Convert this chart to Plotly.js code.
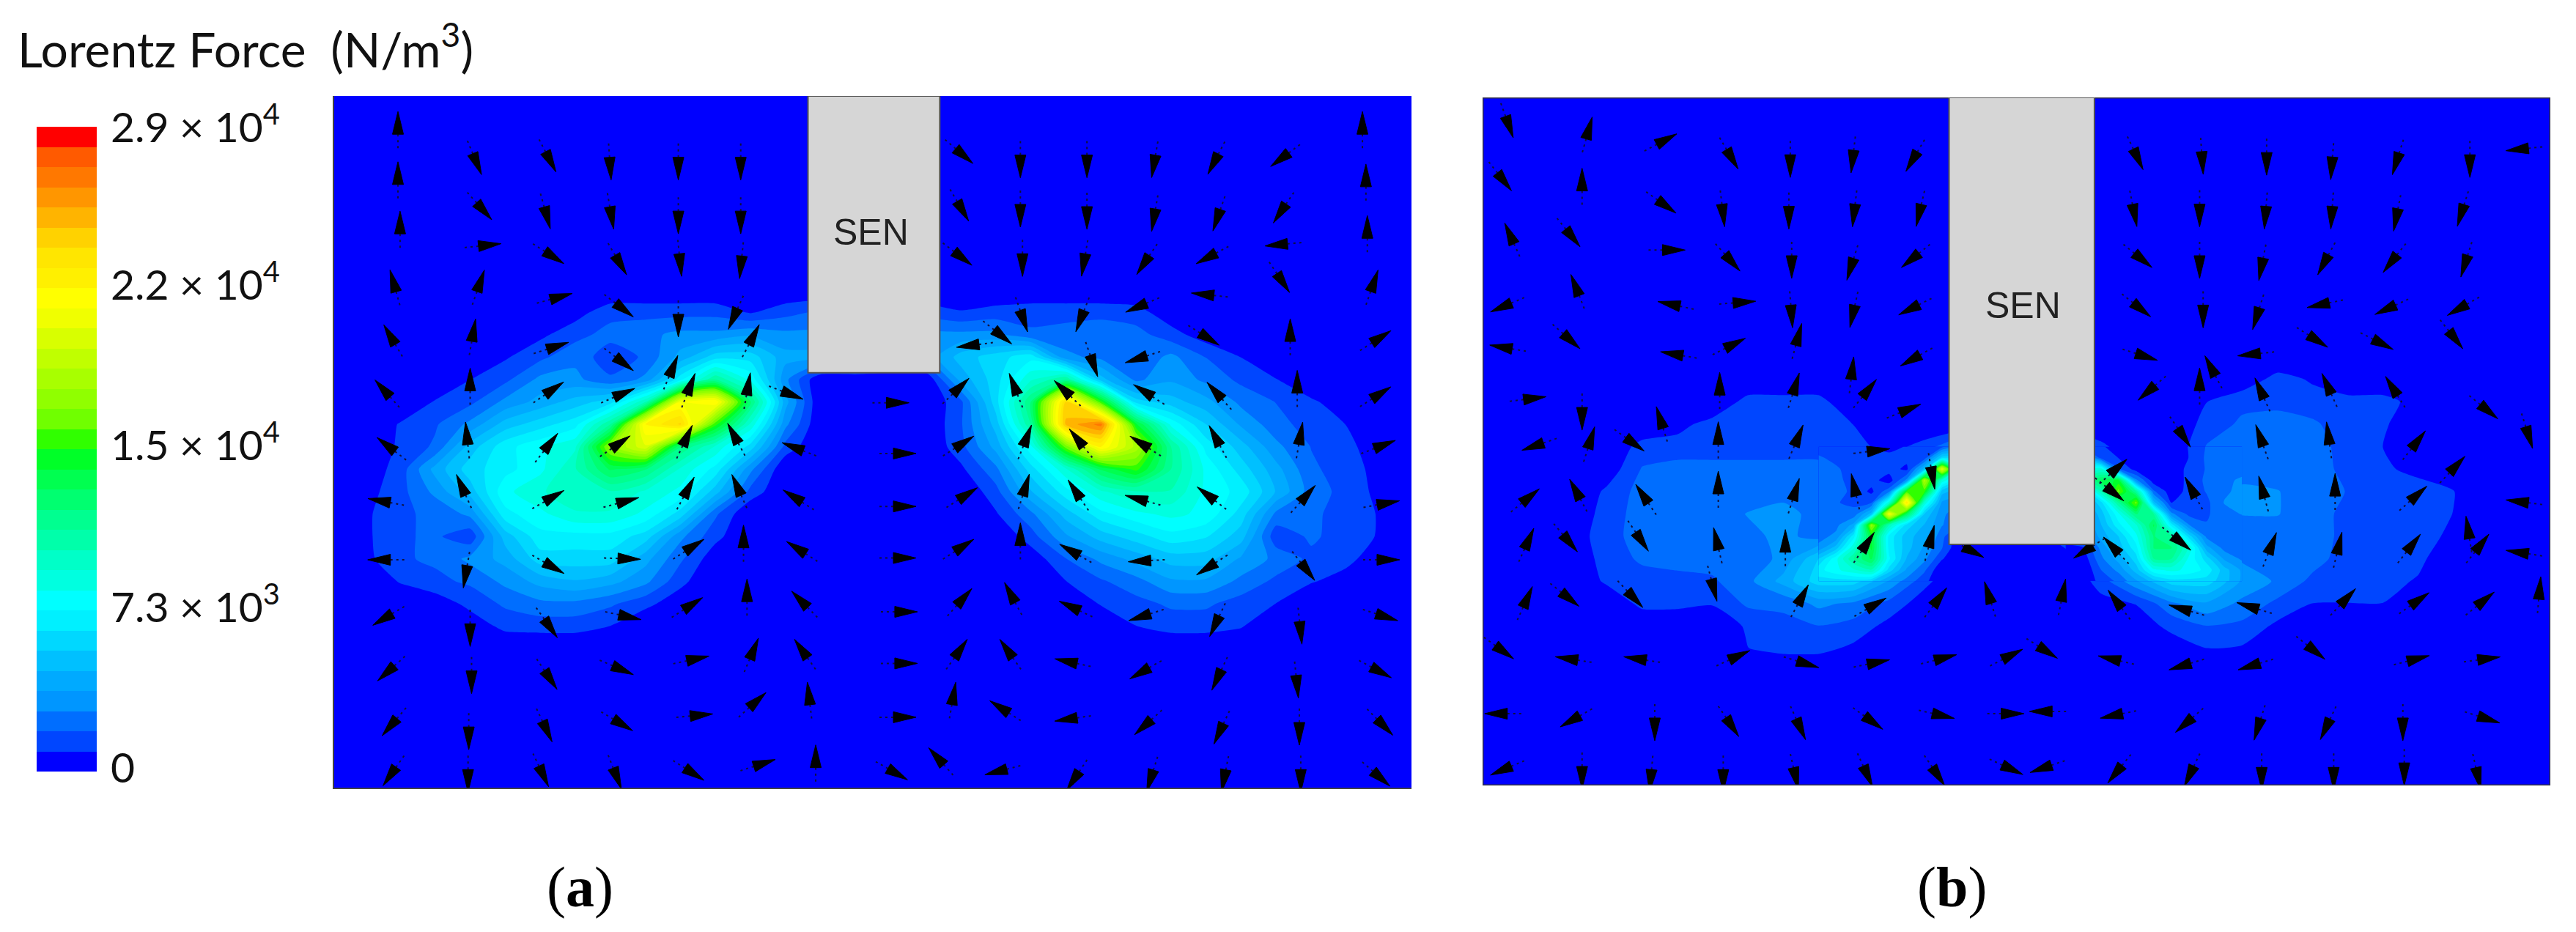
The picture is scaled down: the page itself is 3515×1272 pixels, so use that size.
<!DOCTYPE html>
<html>
<head>
<meta charset="utf-8">
<script src="https://cdn.plot.ly/plotly-3.0.1.min.js"></script>
<style>body { margin: 0; background: #fff; }</style>
</head>
<body>
<div id="chart" style="width:3515px;height:1272px;"></div>
<script>
// === Colour bar ===
const bandColors = ['#0000ff','#0046ff','#006eff','#0096ff','#00aaff','#00c0ff','#00d8ff','#00f0ff',
    '#00ffff','#00ffe0','#00ffc8','#00ffaa','#00ff90','#00ff70','#00ff50','#00ff28',
    '#30ff00','#70ff00','#90ff00','#a8ff00','#c0ff00','#d8ff00','#f0ff00','#ffff00',
    '#fff000','#ffe600','#ffd200','#ffb400','#ff9600','#ff7800','#ff5a00','#ff0000'];
const barTickVals = [0.17, 7.47, 14.83, 22.13, 29.3];
const barTickText = ['0', '7.3 × 10<sup>3</sup>', '1.5 × 10<sup>4</sup>', '2.2 × 10<sup>4</sup>', '2.9 × 10<sup>4</sup>'];
const forceMax = 29.33; // 10^3 N/m3

// === Force field, 10^3 N/m3 ===
const xGrid = [0,50,100,150,200,250,300,350,400,450,500,550,600,650,700,750,800,
    850,900,950,1000,1050,1100,1150,1200,1250,1300,1350,1400,1450,1500,1550];
const yGridA = [0,450,500,550,600,650,700,750,800,850,900,950,1000,1050,1100,1150,1200,1250,1600];
const yGridB = [0,600,650,700,750,800,850,900,950,1000,1050,1100,1150,1200,1250,1300,1600];
const blank = xGrid.map(() => 0);

const forceA = [blank, blank,
    [0,0,0,0,0,0,0,.5,1.5,1.5,1.5,1.5,.8,1.5,2, 2,2, 1.5,1,1.3,1.5,1.5,1.5,1.3,.3,0,0,0,0,0,0,0],
    [0,0,0,0,0,0,.7,1.5,2.2,2.5,3,3,3.5,3,3, 3,3, 3,3,3,2,2.2,2.5,2.2,1.3,.4,0,0,0,0,0,0],
    [0,0,0,0,0,.8,1.6,2.5,1.2,2,4,6,6,4,4, 4,3, 3,5,6,7,3,2.5,2,3,1.8,.9,0,0,0,0,0],
    [0,0,0,0,.9,1.6,3,3,2,3,7,11,8,3,0, 0,0, 0,4,6,9,11,5,2.5,3.5,2.5,1.6,.95,0,0,0,0],
    [0,0,0,1,1.6,3,4,5,6,10,21,22,12,4,0, 0,0, 0,1.6,6,12,24,15,6,5,4,2.5,1.8,1.1,.3,0,0],
    [0,0,1,1.7,3,5,6,7,11,22,24,15,9,3,0, 0,0, 0,1.7,5,11,25,27,14,8,5.5,3.5,2.2,1.4,.9,0,0],
    [0,0,1.1,2,5,7,8,9,17,20,12,9,6,1.5,0, 0,0, 0,1.5,4,8,16,22,18,11,7,5,3,1.8,1.2,.3,0],
    [0,.3,1.3,4,6,7,8,10,13,12,9,7,3,0,0, 0,0, 0,.7,2.5,6,9,13,15,11,8,6,4,2,1.4,.5,0],
    [0,.5,1.5,3,5,8,9,10,10,9,8,5,1.5,0,0, 0,0, 0,0,1.5,4.5,7,9,10,10,8,7,4.5,2.3,1.5,.6,0],
    [0,.7,1.7,2,3,7,8,9,9,8,6,2,0,0,0, 0,0, 0,0,.8,2.5,5,7,8,8.5,8,6,2.5,2,1.5,.8,0],
    [0,.7,1.7,2,1.2,5,7,7,7,6,3,1.2,0,0,0, 0,0, 0,0,0,1.4,3.5,5,6,7,6.5,5,1.2,2,1.4,.8,0],
    [0,.6,1.7,2,3,4,6,6,6,4,2,.3,0,0,0, 0,0, 0,0,0,.3,1.8,3,4,5,5,3.5,2.5,1.6,1.2,.3,0],
    [0,0,1,1.6,2,3,4,4.5,4,3,1.2,0,0,0,0, 0,0, 0,0,0,0,.9,1.7,2.4,3.5,3.5,2.5,1.6,1,.5,0,0],
    [0,0,0,.3,1.2,2,2.5,2.5,2,1.2,.3,0,0,0,0, 0,0, 0,0,0,0,0,1,1.5,2,2,1.4,.9,0,0,0,0],
    [0,0,0,0,.3,1.2,1.3,1.3,.9,0,0,0,0,0,0, 0,0, 0,0,0,0,0,0,.9,1.3,1.3,1,0,0,0,0,0],
    blank, blank];

const forceB = [blank, blank,
    [0,0,0,0,0,0,0,0,0,0,0,0,0,0,0, 0,0, 0,0,0,0,0,.2,1.3,.8,0,0,0,0,0,0,0],
    [0,0,0,0,0,0,0,0,1.3,1.3,1.3,0,0,0,0, 0,0, 0,0,0,0,.9,1.6,1.6,1.3,1.3,1.3,.5,0,0,0,0],
    [0,0,0,0,0,0,.6,1.3,1.3,1.3,1.3,.9,0,0,0, 0,0, 0,0,0,0,1.3,2,2.2,2,1.3,1.1,0,0,0,0,0],
    [0,0,0,0,0,1.3,1.3,1.3,1.3,1.3,1.3,1.3,.5,1.3,3, 3,3, 3,1.2,0,0,1.9,2.2,2.2,2.2,1.5,.9,0,0,0,0,0],
    [0,0,0,0,.3,1.9,2.2,2.2,2.2,2.2,2.2,1.4,1.3,5,8, 8,8, 8,9,.5,0,1.9,2.2,2.2,2.2,1.6,1.1,.6,0,0,0,0],
    [0,0,0,0,1.1,2.2,2.2,2.2,2.2,2.5,2.2,.8,2.5,15,4, 4,4, 4,10,11,.4,1.9,3,2.8,2.2,1.8,1.5,1.4,.95,0,0,0],
    [0,0,0,0,1.4,2.2,2.2,2.2,2.8,3,2.5,4,21,5.5,2, 2,2, 3,5,12,3,1.7,2.8,2.8,2.2,1.6,1.4,1.3,.9,0,0,0],
    [0,0,0,.3,1.5,2.2,2.2,2.2,2.5,3,2.4,7,7,4,0, 0,0, 2,4,8,11,2.5,2,2.2,2.2,1.6,1.3,1.3,.7,0,0,0],
    [0,0,0,.2,1.3,2,2.2,2.2,2.2,3,5.5,11,7.5,3,0, 0,0, 0,2.5,6,11,6,2.6,2.4,2.2,1.4,1.3,1.2,0,0,0,0],
    [0,0,0,0,1.1,1.4,1.5,1.7,2.5,4,6,6,3.5,1.2,0, 0,0, 0,1.3,3.5,6,6,3.5,2.6,1.6,1.3,1.3,.8,0,0,0,0],
    [0,0,0,0,0,1.2,1.2,1,2,2,3,2.5,1.5,.4,0, 0,0, 0,.6,.95,2.5,3.5,2.5,1.6,.9,.9,.9,0,0,0,0,0],
    [0,0,0,0,0,0,0,0,1.1,1.6,1.8,1.5,.6,0,0, 0,0, 0,0,.3,1.2,1.8,1.6,.7,0,0,0,0,0,0,0,0],
    [0,0,0,0,0,0,0,0,.9,1.2,1.2,.7,0,0,0, 0,0, 0,0,0,.3,.9,.8,0,0,0,0,0,0,0,0,0],
    blank, blank];

// finer reading of the two narrow hot streaks in (b)
const yPatch = [800,825,850,875,900,925,950,975,1000,1025,1050,1075,1100];
const xPatchL = [500,525,550,575,600,625,650,675,700];
const forcePatchL = [
    [1.3,1.3,1.3,.9,.5,1,1.3,1.5,3],
    [2,1.5,1.3,1.3,1.3,1.2,1.3,6,6],
    [2.2,2,1.3,1.3,1.3,.7,5,20,8],
    [2.2,2.2,1.3,1.3,.4,3,18,9,6],
    [2.2,2.2,1.6,.7,2.5,15,15,5,4],
    [2.2,1.9,1.6,1.8,9,23,9,3.5,3],
    [2.5,2,2.2,5,21,13,5.5,3,2],
    [2.3,2.5,4,17,10,6,4.5,2.8,2],
    [2.4,3,7,14,7,5,4,2.2,0],
    [3,5,9,14,7,5,3.5,1.9,0],
    [5.5,8,11,13,7.5,4.5,3,1,0],
    [7,8,9,10,6,3.5,2,0,0],
    [6,6,6,5.5,3.5,2.4,1.2,0,0]];
const xPatchR = [850,875,900,925,950,975,1000,1025,1050,1075,1100];
const forcePatchR = [
    [1.5,1.5,1.2,0,0,0,0,1,1.9,2,2.2],
    [5,5,1.5,.9,0,0,0,.95,2,2.2,2.2],
    [8,8,9,2,.5,0,0,1.3,1.9,2.2,2.2],
    [10,10,13,14,3,.4,0,1.3,2,2.4,3],
    [5,5,10,16,11,2,.4,1.2,1.9,2.6,3],
    [4,4,6,11,16,5,.9,1.2,1.6,2.8,3],
    [3,3,5,8,12,11,3,1.6,1.7,2.4,2.8],
    [2.5,2.5,4.5,7,9,13,7,2.8,1.9,2,2.1],
    [2,2,4,5.5,8,12,11,6,2.5,2,2],
    [.5,.9,3,5,7,12,12,9,4,2.4,2],
    [0,.3,2.5,4,6,11,11,8,6,3.5,2.6],
    [0,0,1.8,3,5,8,8.5,8,7,5,3.5],
    [0,0,1.3,2,3.5,5,6,6,6,5,3.5]];

// === Force direction, arrow head centres and directions ===
const arrowXA = [97,1473,
    97,210,315,400,497,586,905,985,1080,1175,1260,1355,1478,
    100,220,310,402,497,586,903,985,1080,1175,1265,1355,1480,
    228,320,415,500,586,903,988,1075,1160,1250,1350,
    90,215,330,1245,1360,1490,
    85,205,420,497,575,990,1070,1150,1255,1370,1500,
    325,605,910,960,420,490,1090,1150,
    75,200,320,420,515,597,660,810,900,975,1045,1160,1262,1380,1500,
    80,195,315,415,510,575,660,820,905,995,1065,1155,1262,1385,1505,
    70,187,320,425,512,580,660,820,910,993,1062,1150,1250,1395,1510,
    70,193,320,427,520,590,665,820,905,985,1055,1155,1250,1395,1510,
    75,200,315,428,518,595,670,822,905,970,1055,1155,1262,1385,1508,
    80,202,315,418,525,605,672,822,900,965,1050,1155,1265,1380,1500,
    85,198,310,418,530,610,683,820,890,955,1050,1160,1268,1383,1505,
    85,197,305,410,520,620,693,810,865,950,1060,1170,1275,1385,1500];
const arrowYA = [78,78,
    190,170,165,180,180,180,152,175,175,175,170,160,195,
    300,275,290,290,300,300,275,285,290,295,295,280,310,
    350,378,395,395,400,380,395,395,395,380,350,
    430,430,465,460,435,430,
    550,540,495,530,515,520,520,490,560,540,555,
    575,550,575,555,615,620,620,605,
    670,650,670,680,660,660,685,702,665,660,670,675,675,655,680,
    795,770,790,790,775,770,800,815,790,775,780,790,775,770,795,
    920,885,910,920,890,885,910,933,905,885,895,915,905,905,925,
    1052,1090,1070,1050,1020,1000,1025,1048,1020,995,1030,1055,1072,1078,1052,
    1185,1220,1205,1180,1150,1120,1140,1168,1135,1125,1155,1180,1200,1215,1180,
    1305,1325,1320,1298,1272,1250,1250,1283,1250,1250,1278,1305,1320,1335,1303,
    1425,1450,1435,1420,1398,1365,1350,1403,1350,1380,1408,1425,1440,1440,1425,
    1535,1545,1535,1540,1530,1505,1490,1530,1490,1525,1545,1545,1545,1545,1540];
const arrowUA = [0,0,
    0,12,15,2,0,0,30,0,0,-5,-15,-30,0,
    0,20,8,5,0,0,15,0,0,-5,-10,-15,0,
    30,25,15,3,-3,25,0,-5,-15,-30,-35,
    -8,10,35,-30,15,10,
    -15,5,25,0,-10,10,-10,-30,25,0,25,
    30,15,-25,20,25,12,10,-30,
    -20,0,28,30,10,5,25,30,20,-10,-20,-25,-20,0,30,
    -25,-3,20,28,12,-12,-25,30,28,10,-18,-28,-12,5,30,
    -35,-10,28,35,12,-10,-25,30,25,8,-15,-35,-25,20,35,
    -35,-5,28,35,28,0,-28,30,28,0,-28,-35,-28,20,35,
    -30,0,18,35,28,0,-22,30,20,-12,-30,-30,-12,3,30,
    -25,0,15,30,30,12,-18,30,18,-18,-30,-28,-12,3,30,
    -22,0,12,30,35,25,-3,30,5,-25,-35,-25,-12,0,22,
    -18,0,12,10,25,30,0,28,-20,-30,-15,-8,-5,0,22];
const arrowVA = [-45,-45,
    -45,45,45,45,45,45,40,45,45,45,45,35,-45,
    -45,35,45,45,45,45,40,45,45,45,45,35,-45,
    -5,25,40,45,45,30,45,45,35,25,5,
    -45,-45,-15,-5,35,-45,
    -40,-45,30,45,35,45,40,20,25,-40,-25,
    -15,-45,5,25,30,-45,45,15,
    -35,-40,-30,-20,-40,-45,15,0,-30,-40,-30,-25,-35,-45,-30,
    -30,-45,-40,-30,-40,-35,-15,0,-28,-40,-35,-28,-35,-45,-18,
    -10,-35,-25,-15,-35,-35,-25,0,-25,-40,-35,-15,-30,-35,-10,
    0,45,25,2,-28,-45,-28,0,-28,-40,-25,3,28,40,0,
    28,40,40,12,-28,-40,-35,0,-35,-35,-22,15,40,45,15,
    35,40,35,20,-10,-45,-40,0,-40,-40,-10,25,40,45,25,
    40,45,40,28,-5,-35,-40,0,-45,-25,8,35,40,45,35,
    40,40,40,40,25,-15,-40,25,-35,12,35,40,40,40,30];

const arrowXB = [62,175,285,
    378,460,548,632,953,1044,1135,1227,1318,1423,1490,
    55,165,285,365,458,550,642,948,1040,1133,1227,1318,1410,
    62,152,295,378,462,545,630,960,1040,1127,1215,1310,1415,
    155,50,288,395,462,548,628,958,1045,1120,1208,1303,1405,
    150,50,292,472,382,548,630,965,1110,1055,1208,1300,1403,
    360,468,572,965,1040,1125,1220,1312,98,630,1450,
    165,275,240,178,358,472,95,1018,1125,1222,1350,1507,585,
    662,925,250,358,468,550,155,92,1027,1128,1232,1350,1405,1490,920,1420,
    90,148,250,355,453,570,660,720,875,915,1015,1143,1238,1343,1440,1490,
    88,148,240,352,478,582,672,740,847,920,1012,1108,1250,1352,1445,1522,
    55,143,240,388,485,585,680,775,825,912,1012,1110,1205,1350,1450,
    43,148,268,378,475,578,677,775,815,915,1018,1122,1218,1328,1450,
    50,165,262,365,468,570,670,775,815,920,1025,1128,1230,1330,1435];
const arrowYB = [88,90,115,
    160,175,165,165,160,168,170,180,170,175,138,
    210,205,265,285,290,285,285,285,285,290,290,295,285,
    325,335,362,390,400,405,385,385,400,405,395,392,398,
    440,490,482,478,510,510,495,495,510,515,485,495,495,
    565,578,593,550,570,625,608,600,595,620,565,572,562,
    660,660,670,680,650,670,660,665,692,715,722,
    738,735,795,780,770,775,800,780,775,770,785,780,808,
    870,845,905,880,895,885,895,910,890,890,885,905,840,922,905,980,
    1005,1015,1012,1005,1010,1012,1000,1035,1035,1020,1015,1015,1015,1015,1015,1035,
    1135,1140,1140,1120,1130,1150,1135,1125,1120,1140,1160,1155,1135,1140,1140,1115,
    1258,1272,1272,1265,1285,1280,1270,1263,1258,1272,1290,1290,1258,1272,1272,
    1395,1412,1430,1425,1430,1415,1400,1395,1390,1400,1420,1430,1430,1430,1408,
    1522,1538,1545,1545,1540,1535,1535,1520,1518,1530,1535,1540,1540,1530,1540];
const arrowUB = [8,8,30,
    15,0,-3,-15,12,2,0,-2,-8,0,-30,
    15,0,25,3,0,-3,-6,5,0,-2,-2,-5,-8,
    -10,18,15,20,0,-8,-22,22,0,-5,-12,-15,-8,
    -10,-30,-30,25,2,-5,-28,20,0,-8,-30,-28,-28,
    20,-30,-22,6,28,3,-25,30,-30,-10,25,25,15,
    0,8,18,-22,0,-10,-10,-12,30,28,22,
    0,-8,22,8,0,8,-28,12,-8,-3,15,8,25,
    5,25,-15,0,8,-5,-12,22,-12,-6,0,18,18,-30,20,-3,
    10,15,15,-6,0,15,5,18,-15,-15,22,10,6,15,15,-25,
    10,20,15,5,12,20,12,-8,5,-12,-22,-25,15,20,22,2,
    22,-25,-25,25,25,25,25,25,25,-22,-25,-25,20,25,28,
    -22,-28,0,15,10,22,28,25,-22,-25,-22,-8,-12,0,30,
    -30,0,-2,0,5,10,15,25,-28,-18,-12,0,0,0,5];
const arrowVB = [35,-45,-25,
    40,45,40,40,40,45,40,40,40,45,5,
    30,-40,28,40,40,40,40,40,45,40,45,40,40,
    -35,35,0,35,40,40,28,28,45,40,35,30,40,
    -40,20,-10,-3,40,35,22,25,40,40,10,20,25,
    28,-8,-6,-35,-22,-40,22,15,5,-30,25,20,30,
    -40,-40,-35,30,-40,-35,-35,-30,-6,-18,28,
    40,-40,25,-40,-40,-30,15,28,-35,-35,-30,40,-5,
    45,-35,-35,-35,-40,-35,-35,-28,-35,-35,-35,-25,-30,-6,25,-30,
    -35,28,35,-40,-40,-35,-30,15,15,-25,28,-40,-40,-30,-30,-6,
    -35,25,25,30,-35,-18,-25,-40,-40,-25,-10,-12,-25,-22,-28,-35,
    25,-6,-6,-18,12,-8,-10,-20,25,-8,12,12,25,-10,-6,
    0,25,40,35,35,25,10,0,0,8,30,40,40,45,15,
    20,35,35,35,35,35,35,18,15,35,40,35,35,40,35];

// === Layout in page pixels ===
const W = 3515, H = 1272;
const panelA = { left: 456, right: 1926, top: 131, bottom: 1075, xr: [6, 1543], yr: [1560, 18] };
const panelB = { left: 2023, right: 3480, top: 133, bottom: 1072, xr: [24, 1537], yr: [1555, 22] };
const HEAD_LEN = 31, HEAD_W = 15, TAIL_LEN = 20;

const stepScale = [];
bandColors.forEach((c, i) => {
    stepScale.push([i / bandColors.length, c]);
    stepScale.push([(i + 1) / bandColors.length, c]);
});
const bandSize = forceMax / bandColors.length;

function fieldTrace(x, y, z, xa, ya, showBar) {
    return {
        type: 'contour', x: x, y: y, z: z, xaxis: xa, yaxis: ya,
        zmin: 0, zmax: forceMax, autocontour: false,
        colorscale: stepScale,
        contours: { coloring: 'fill', showlines: false, start: bandSize, end: bandSize * (bandColors.length - 1), size: bandSize },
        line: { width: 0, smoothing: 0.6 },
        hoverinfo: 'skip',
        showscale: showBar,
        colorbar: {
            x: 50 / W, xanchor: 'left', xpad: 0,
            y: (H - 1053) / H, yanchor: 'bottom', ypad: 0,
            len: 880, lenmode: 'pixels', thickness: 82, thicknessmode: 'pixels',
            outlinewidth: 0, ticks: 'outside', ticklen: 8, tickcolor: 'rgba(0,0,0,0)',
            tickmode: 'array', tickvals: barTickVals, ticktext: barTickText,
            tickfont: { family: 'Lato', size: 57, color: '#111' }
        }
    };
}

// Quiver: head triangles and dotted tails, both built from the centre + direction arrays
function arrowTraces(X, Y, U, V, p, xa, ya) {
    const sx = (p.right - p.left) / (p.xr[1] - p.xr[0]);
    const sy = (p.bottom - p.top) / (p.yr[0] - p.yr[1]);
    const hx = [], hy = [], tx = [], ty = [];
    X.forEach((x, i) => {
        const y = Y[i];
        const n = Math.hypot(U[i] * sx, V[i] * sy) || 1;
        const dx = U[i] * sx / n, dy = V[i] * sy / n;
        const bx = x - dx * HEAD_LEN / 2 / sx, by = y - dy * HEAD_LEN / 2 / sy;
        hx.push(x + dx * HEAD_LEN / 2 / sx, bx - dy * HEAD_W / 2 / sx, bx + dy * HEAD_W / 2 / sx, x + dx * HEAD_LEN / 2 / sx, null);
        hy.push(y + dy * HEAD_LEN / 2 / sy, by + dx * HEAD_W / 2 / sy, by - dx * HEAD_W / 2 / sy, y + dy * HEAD_LEN / 2 / sy, null);
        tx.push(bx, bx - dx * TAIL_LEN / sx, null);
        ty.push(by, by - dy * TAIL_LEN / sy, null);
    });
    return [
        { type: 'scatter', mode: 'lines', x: tx, y: ty, xaxis: xa, yaxis: ya, hoverinfo: 'skip',
          line: { color: '#10103a', width: 2, dash: '3px,5px' } },
        { type: 'scatter', mode: 'lines', x: hx, y: hy, xaxis: xa, yaxis: ya, hoverinfo: 'skip',
          fill: 'toself', fillcolor: '#000', line: { color: '#000', width: 1 } }
    ];
}

function panelAxes(p, showLine) {
    const common = { showgrid: false, zeroline: false, showticklabels: false, ticks: '',
        showline: showLine, linecolor: '#444', linewidth: 2, fixedrange: true };
    return {
        x: Object.assign({ domain: [p.left / W, p.right / W], range: p.xr }, common),
        y: Object.assign({ domain: [1 - p.bottom / H, 1 - p.top / H], range: p.yr }, common)
    };
}
const axA = panelAxes(panelA, true);
const axB = panelAxes(panelB, false);

function sensor(xa, ya, x0, x1, y0, y1) {
    return { type: 'rect', xref: xa, yref: ya, x0: x0, x1: x1, y0: y0, y1: y1,
        fillcolor: '#d6d6d6', line: { color: '#555', width: 2 }, layer: 'above' };
}
function note(text, x, y, xref, yref, font, anchor) {
    return { text: text, x: x, y: y, xref: xref, yref: yref, showarrow: false, font: font,
        xanchor: anchor || 'center', yanchor: 'middle' };
}
const senFont = { family: 'Liberation Sans', size: 50, color: '#222' };
const subFont = { family: 'Liberation Serif', size: 78, color: '#000' };

const layout = {
    width: W, height: H,
    margin: { l: 0, r: 0, t: 0, b: 0 },
    paper_bgcolor: '#fff', plot_bgcolor: '#0000ff',
    showlegend: false,
    xaxis: axA.x, yaxis: axA.y, xaxis2: axB.x, yaxis2: axB.y,
    shapes: [
        // frame of panel (b)
        { type: 'rect', xref: 'x2', yref: 'y2', x0: panelB.xr[0], x1: panelB.xr[1], y0: panelB.yr[1], y1: panelB.yr[0],
          line: { color: '#30304a', width: 3 }, layer: 'above' },
        sensor('x', 'y', 682, 870, 18, 635),
        sensor('x2', 'y2', 685, 891, 22, 1018)
    ],
    annotations: [
        note('Lorentz Force  (N/m<sup>3</sup>)', 22 / W, 1 - 62 / H, 'paper', 'paper', { family: 'Lato', size: 66, color: '#111' }, 'left'),
        note('SEN', 772, 322, 'x', 'y', senFont),
        note('SEN', 790, 485, 'x2', 'y2', senFont),
        note('(<b>a</b>)', 791 / W, 1 - 1210 / H, 'paper', 'paper', subFont),
        note('(<b>b</b>)', 2663 / W, 1 - 1210 / H, 'paper', 'paper', subFont)
    ]
};

const traces = [
    fieldTrace(xGrid, yGridA, forceA, 'x', 'y', true),
    fieldTrace(xGrid, yGridB, forceB, 'x2', 'y2', false),
    fieldTrace(xPatchL, yPatch, forcePatchL, 'x2', 'y2', false),
    fieldTrace(xPatchR, yPatch, forcePatchR, 'x2', 'y2', false),
    ...arrowTraces(arrowXA, arrowYA, arrowUA, arrowVA, panelA, 'x', 'y'),
    ...arrowTraces(arrowXB, arrowYB, arrowUB, arrowVB, panelB, 'x2', 'y2')
];

Plotly.newPlot('chart', traces, layout, { displayModeBar: false, staticPlot: true });
</script>
</body>
</html>
